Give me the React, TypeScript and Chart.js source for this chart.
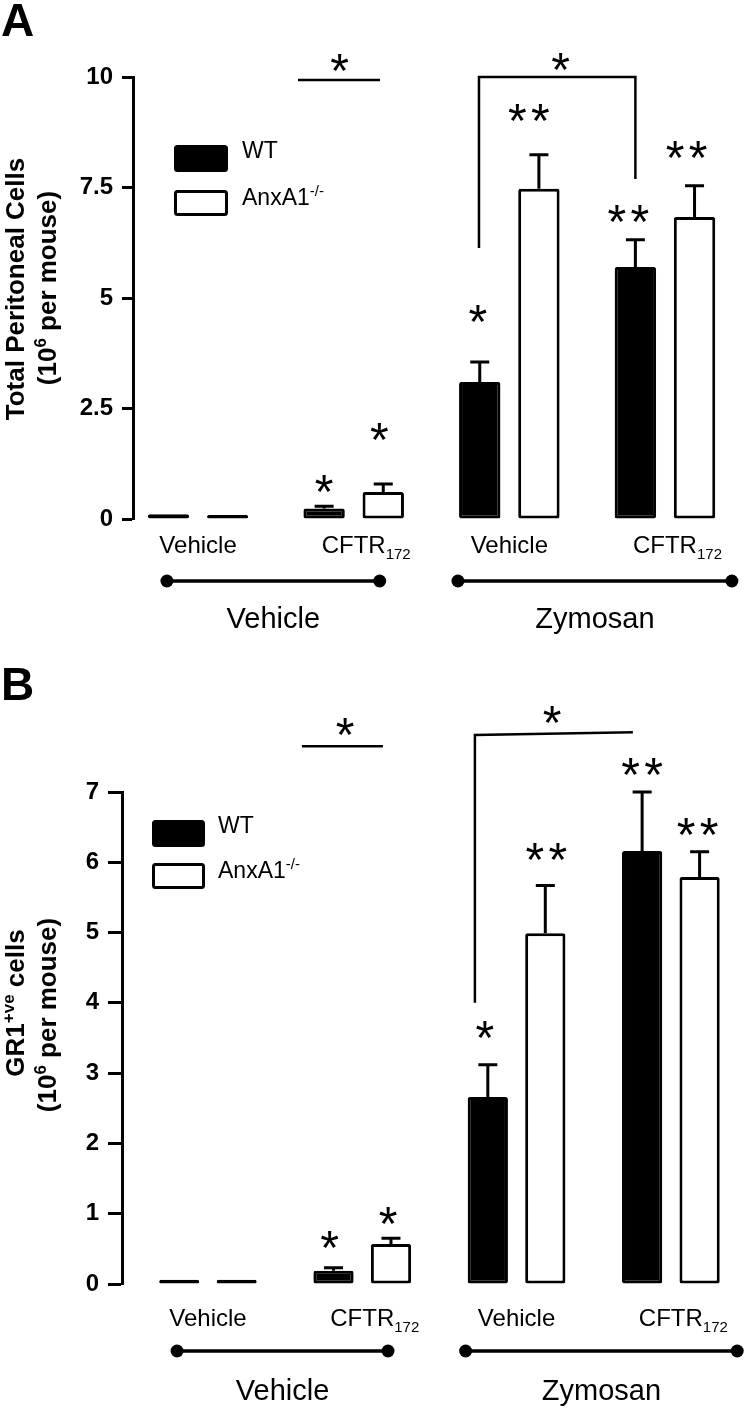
import React, { useEffect, useRef } from "react";
import { Chart, registerables } from "chart.js";

Chart.register(...registerables);

// ---------- shared labels ----------
const SERIES_LABELS = ["WT", "AnxA1^-/-"];
const GROUP_LABELS = ["Vehicle", "CFTR_172", "Vehicle", "CFTR_172"];
const TREATMENT_LABELS = ["Vehicle", "Zymosan"];
const SERIES_FILL = ["#000000", "#ffffff"];

// ---------- Panel A: total peritoneal cells ----------
const A_WT = [0.11, 0.24, 3.1, 5.7];
const A_WT_SEM = [0, 0.05, 0.45, 0.62];
const A_KO = [0.09, 0.61, 7.47, 6.83];
const A_KO_SEM = [0, 0.18, 0.77, 0.71];
const A_TICKS = [0, 2.5, 5, 7.5, 10];
const A_TITLE = ["Total Peritoneal Cells", "(10^6 per mouse)"];
// significance stars: group, series, height (data units), text
const A_STARS = [
  { g: 1, s: 0, y: 0.81, t: "*", dx: 0 },
  { g: 1, s: 1, y: 1.97, t: "*", dx: -4 },
  { g: 2, s: 0, y: 4.66, t: "*", dx: -2 },
  { g: 2, s: 1, y: 9.2, t: "**", dx: -10 },
  { g: 3, s: 0, y: 6.92, t: "**", dx: -7 },
  { g: 3, s: 1, y: 8.35, t: "**", dx: -8 },
];
const A_LINES = [
  { pts: [[0.642, 9.93], [1.169, 9.93]], star: [0.91, 10.33] },
  { pts: [[1.805, 6.13], [1.805, 10.0], [2.81, 10.0], [2.81, 7.69]], star: [2.33, 10.34] },
];

// ---------- Panel B: GR1+ve cells ----------
const B_WT = [0.06, 0.19, 2.66, 6.16];
const B_WT_SEM = [0, 0.04, 0.46, 0.84];
const B_KO = [0.06, 0.57, 4.99, 5.79];
const B_KO_SEM = [0, 0.08, 0.68, 0.36];
const B_TICKS = [0, 1, 2, 3, 4, 5, 6, 7];
const B_TITLE = ["GR1^+ve cells", "(10^6 per mouse)"];
const B_STARS = [
  { g: 1, s: 0, y: 0.63, t: "*", dx: -4 },
  { g: 1, s: 1, y: 0.98, t: "*", dx: -3 },
  { g: 2, s: 0, y: 3.62, t: "*", dx: -3 },
  { g: 2, s: 1, y: 6.15, t: "**", dx: 1 },
  { g: 3, s: 0, y: 7.36, t: "**", dx: 0 },
  { g: 3, s: 1, y: 6.51, t: "**", dx: -2 },
];
const B_LINES = [
  { pts: [[0.609, 7.65], [1.134, 7.65]], star: [0.888, 7.93] },
  { pts: [[1.73, 4.0], [1.73, 7.81], [2.754, 7.85]], star: [2.23, 8.1] },
];

const TREATMENT_SPANS = [
  [-0.2, 1.167],
  [1.67, 3.43],
];

const FAMILY = "'Liberation Sans', Arial, sans-serif";

type Seg = { t: string; k: "n" | "sup" | "sub" };
function parseRich(s: string): Seg[] {
  const out: Seg[] = [];
  const re = /([\^_])(\S+)/g;
  let last = 0;
  let m: RegExpExecArray | null;
  while ((m = re.exec(s))) {
    if (m.index > last) out.push({ t: s.slice(last, m.index), k: "n" });
    out.push({ t: m[2], k: m[1] === "^" ? "sup" : "sub" });
    last = m.index + m[0].length;
  }
  if (last < s.length) out.push({ t: s.slice(last), k: "n" });
  return out;
}

function drawRich(
  ctx: CanvasRenderingContext2D,
  s: string,
  x: number,
  y: number,
  size: number,
  weight: string,
  align: "left" | "center" | "centerMain"
) {
  const segs = parseRich(s);
  const small = Math.round(size * 0.64);
  const fontFor = (k: string) => `${weight} ${k === "n" ? size : small}px ${FAMILY}`;
  const widths = segs.map((sg) => {
    ctx.font = fontFor(sg.k);
    return ctx.measureText(sg.t).width;
  });
  const total = widths.reduce((a, b) => a + b, 0);
  const mainW = widths[0];
  let cx = align === "left" ? x : align === "center" ? x - total / 2 : x - mainW / 2;
  ctx.textAlign = "left";
  ctx.textBaseline = "alphabetic";
  segs.forEach((sg, i) => {
    ctx.font = fontFor(sg.k);
    const dy = sg.k === "sup" ? -size * 0.4 : sg.k === "sub" ? size * 0.25 : 0;
    ctx.fillText(sg.t, cx, y + dy);
    cx += widths[i];
  });
}

const STAR_SIZE = 48;
const STAR_PITCH = 23;
function drawStars(ctx: CanvasRenderingContext2D, text: string, cx: number, cy: number) {
  ctx.font = `normal ${STAR_SIZE}px ${FAMILY}`;
  const m = ctx.measureText("*");
  const yb = cy + (m.actualBoundingBoxAscent - m.actualBoundingBoxDescent) / 2;
  const n = text.length;
  ctx.textAlign = "center";
  ctx.textBaseline = "alphabetic";
  for (let k = 0; k < n; k++) {
    ctx.fillText("*", cx + (k - (n - 1) / 2) * STAR_PITCH, yb);
  }
}

type PanelCfg = {
  height: number;
  top: number;
  letter: string;
  letterBaseline: number;
  wt: number[];
  wtSem: number[];
  ko: number[];
  koSem: number[];
  ticks: number[];
  title: string[];
  titleX: number[];
  titleY: number[];
  stars: { g: number; s: number; y: number; t: string; dx: number }[];
  lines: { pts: number[][]; star: number[] }[];
  axisX: number;
  padTop: number;
  padBottom: number;
  xMin: number;
  xMax: number;
  catPct: number;
  barPct: number;
  tickLength: number;
  legendX: number;
  legendW: number;
  legendBoxY: number[];
  legendBoxH: number[];
  legendTextX: number;
  legendTextY: number[];
  labelOffset: number;
  bracketOffset: number;
  treatOffset: number;
};

const PANEL_A: PanelCfg = {
  height: 650,
  top: 0,
  letter: "A",
  letterBaseline: 36,
  wt: A_WT,
  wtSem: A_WT_SEM,
  ko: A_KO,
  koSem: A_KO_SEM,
  ticks: A_TICKS,
  title: A_TITLE,
  titleX: [15, 47],
  titleY: [289, 288],
  stars: A_STARS,
  lines: A_LINES,
  axisX: 133,
  padTop: 77,
  padBottom: 131,
  xMin: -0.418,
  xMax: 3.495,
  catPct: 0.76,
  barPct: 0.7,
  tickLength: 11,
  legendX: 174,
  legendW: 54,
  legendBoxY: [145, 190],
  legendBoxH: [27, 26],
  legendTextX: 242,
  legendTextY: [150, 197],
  labelOffset: 34,
  bracketOffset: 62,
  treatOffset: 109,
};

const PANEL_B: PanelCfg = {
  height: 765,
  top: 650,
  letter: "B",
  letterBaseline: 50,
  wt: B_WT,
  wtSem: B_WT_SEM,
  ko: B_KO,
  koSem: B_KO_SEM,
  ticks: B_TICKS,
  title: B_TITLE,
  titleX: [15, 47],
  titleY: [353, 365],
  stars: B_STARS,
  lines: B_LINES,
  axisX: 122,
  padTop: 142,
  padBottom: 131,
  xMin: -0.557,
  xMax: 3.461,
  catPct: 0.745,
  barPct: 0.7,
  tickLength: 14,
  legendX: 152,
  legendW: 53,
  legendBoxY: [170, 213],
  legendBoxH: [27, 26],
  legendTextX: 218,
  legendTextY: [175, 220],
  labelOffset: 42,
  bracketOffset: 67,
  treatOffset: 116,
};

function makeChart(canvas: HTMLCanvasElement, cfg: PanelCfg) {
  const sems = [cfg.wtSem, cfg.koSem];
  const vals = [cfg.wt, cfg.ko];

  const overlay = {
    id: "overlay",
    afterDatasetsDraw(chart: any) {
      const ctx: CanvasRenderingContext2D = chart.ctx;
      const ys = chart.scales.y;
      ctx.save();
      ctx.strokeStyle = "#000";
      ctx.lineWidth = 3;
      ctx.lineCap = "butt";
      for (let d = 0; d < 2; d++) {
        const meta = chart.getDatasetMeta(d);
        meta.data.forEach((el: any, i: number) => {
          const sem = sems[d][i];
          if (!sem) return;
          const yTop = ys.getPixelForValue(vals[d][i] + sem);
          ctx.beginPath();
          ctx.moveTo(el.x, el.y);
          ctx.lineTo(el.x, yTop);
          ctx.moveTo(el.x - 9.5, yTop);
          ctx.lineTo(el.x + 9.5, yTop);
          ctx.stroke();
        });
      }
      ctx.restore();
    },
    afterDraw(chart: any) {
      const ctx: CanvasRenderingContext2D = chart.ctx;
      const xs = chart.scales.x;
      const ys = chart.scales.y;
      const area = chart.chartArea;
      ctx.save();
      ctx.fillStyle = "#000";
      ctx.strokeStyle = "#000";

      // panel letter
      ctx.font = `bold 46px ${FAMILY}`;
      ctx.textAlign = "left";
      ctx.textBaseline = "alphabetic";
      ctx.fillText(cfg.letter, 1, cfg.letterBaseline);

      // y-axis title (rotated)
      cfg.title.forEach((line, i) => {
        ctx.save();
        ctx.translate(cfg.titleX[i], cfg.titleY[i]);
        ctx.rotate(-Math.PI / 2);
        drawRich(ctx, line, 0, 26 * 0.36, 26, "bold", "center");
        ctx.restore();
      });

      // legend
      chart.data.datasets.forEach((ds: any, i: number) => {
        const x = cfg.legendX;
        const y = cfg.legendBoxY[i];
        const h = cfg.legendBoxH[i];
        ctx.beginPath();
        (ctx as any).roundRect(x + 1.5, y + 1.5, cfg.legendW - 3, h - 3, 2);
        ctx.fillStyle = ds.backgroundColor;
        ctx.fill();
        ctx.lineWidth = 3;
        ctx.strokeStyle = ds.borderColor;
        ctx.stroke();
        ctx.fillStyle = "#000";
        drawRich(ctx, ds.label, cfg.legendTextX, cfg.legendTextY[i] + 23 * 0.36, 23, "normal", "left");
      });

      // group labels
      GROUP_LABELS.forEach((lab, i) => {
        drawRich(ctx, lab, xs.getPixelForValue(i), area.bottom + cfg.labelOffset, 24, "normal", "centerMain");
      });

      // treatment brackets
      TREATMENT_SPANS.forEach((span, i) => {
        const x1 = xs.getPixelForValue(span[0]);
        const x2 = xs.getPixelForValue(span[1]);
        const y = area.bottom + cfg.bracketOffset;
        ctx.lineWidth = 3.5;
        ctx.beginPath();
        ctx.moveTo(x1, y);
        ctx.lineTo(x2, y);
        ctx.stroke();
        [x1, x2].forEach((xx) => {
          ctx.beginPath();
          ctx.arc(xx, y, 6.5, 0, Math.PI * 2);
          ctx.fill();
        });
        ctx.font = `normal 29px ${FAMILY}`;
        ctx.textAlign = "center";
        ctx.textBaseline = "alphabetic";
        ctx.fillText(TREATMENT_LABELS[i], (x1 + x2) / 2, area.bottom + cfg.treatOffset);
      });

      // significance lines / brackets
      cfg.lines.forEach((ln) => {
        ctx.lineWidth = 2.5;
        ctx.lineJoin = "miter";
        ctx.beginPath();
        ln.pts.forEach((p, k) => {
          const px = xs.getPixelForValue(p[0]);
          const py = ys.getPixelForValue(p[1]);
          if (k === 0) ctx.moveTo(px, py);
          else ctx.lineTo(px, py);
        });
        ctx.stroke();
        drawStars(ctx, "*", xs.getPixelForValue(ln.star[0]), ys.getPixelForValue(ln.star[1]));
      });

      // stars above bars
      cfg.stars.forEach((st) => {
        const el = chart.getDatasetMeta(st.s).data[st.g];
        drawStars(ctx, st.t, el.x + st.dx, ys.getPixelForValue(st.y));
      });

      ctx.restore();
    },
  };

  const mk = (i: number, arr: number[]) => ({
    label: SERIES_LABELS[i],
    data: arr.map((v, k) => ({ x: k, y: v })),
    backgroundColor: SERIES_FILL[i],
    borderColor: "#000000",
    borderWidth: 3,
    borderSkipped: false,
    borderRadius: 2,
    categoryPercentage: cfg.catPct,
    barPercentage: cfg.barPct,
  });

  return new Chart(canvas, {
    type: "bar",
    data: { datasets: [mk(0, cfg.wt), mk(1, cfg.ko)] as any },
    options: {
      animation: false,
      responsive: false,
      devicePixelRatio: 1,
      layout: { padding: { top: cfg.padTop, bottom: cfg.padBottom, left: 0, right: 8 } },
      plugins: { legend: { display: false }, tooltip: { enabled: false } },
      scales: {
        x: {
          type: "linear",
          display: false,
          offset: false,
          min: cfg.xMin,
          max: cfg.xMax,
          afterBuildTicks: (s: any) => {
            s.ticks = GROUP_LABELS.map((_, i) => ({ value: i }));
          },
        },
        y: {
          type: "linear",
          min: cfg.ticks[0],
          max: cfg.ticks[cfg.ticks.length - 1],
          afterBuildTicks: (s: any) => {
            s.ticks = cfg.ticks.map((v) => ({ value: v }));
          },
          afterFit: (s: any) => {
            s.width = cfg.axisX;
          },
          grid: {
            display: true,
            drawOnChartArea: false,
            drawTicks: true,
            tickLength: cfg.tickLength,
            tickWidth: 3,
            tickColor: "#000",
          },
          border: { display: true, color: "#000", width: 3 },
          ticks: {
            color: "#000",
            padding: 9,
            font: { family: FAMILY, weight: "bold", size: 24 },
            callback: (v: any) => String(v),
          },
        },
      },
    } as any,
    plugins: [overlay],
  });
}

function Panel({ cfg }: { cfg: PanelCfg }) {
  const ref = useRef<HTMLCanvasElement>(null);
  useEffect(() => {
    if (!ref.current) return;
    const ch = makeChart(ref.current, cfg);
    return () => ch.destroy();
  }, [cfg]);
  return (
    <canvas
      ref={ref}
      width={750}
      height={cfg.height}
      style={{ position: "absolute", left: 0, top: cfg.top, width: 750, height: cfg.height, display: "block" }}
    />
  );
}

export default function App() {
  return (
    <div style={{ position: "absolute", left: 0, top: 0, width: 750, height: 1415, background: "#fff" }}>
      <Panel cfg={PANEL_A} />
      <Panel cfg={PANEL_B} />
    </div>
  );
}
